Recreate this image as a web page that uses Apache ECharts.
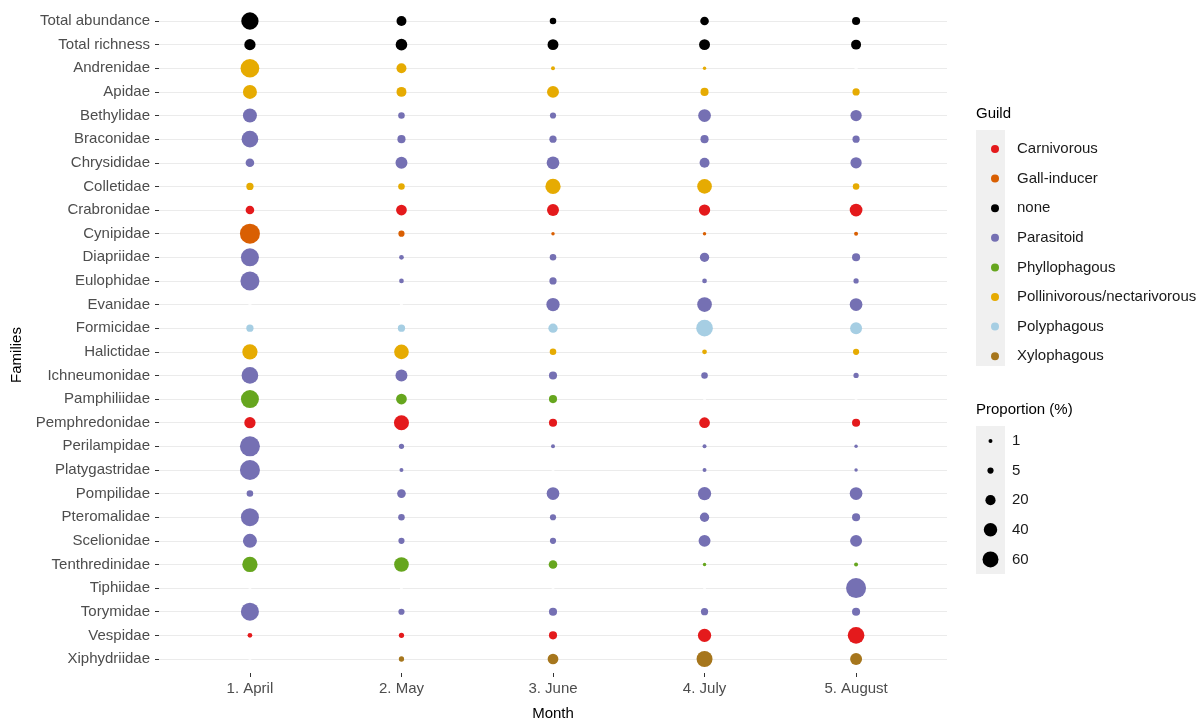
<!DOCTYPE html>
<html>
<head>
<meta charset="utf-8">
<script src="https://cdn.jsdelivr.net/npm/echarts@6/dist/echarts.min.js"></script>
<style>
html,body{margin:0;padding:0;background:#fff;}
#chart{width:1204px;height:719px;}
</style>
</head>
<body>
<div id="chart"></div>
<script>
// ---------- data ----------
const months = ['1. April', '2. May', '3. June', '4. July', '5. August'];
const families = ['Total abundance', 'Total richness', 'Andrenidae', 'Apidae', 'Bethylidae', 'Braconidae',
  'Chrysididae', 'Colletidae', 'Crabronidae', 'Cynipidae', 'Diapriidae', 'Eulophidae', 'Evanidae',
  'Formicidae', 'Halictidae', 'Ichneumonidae', 'Pamphiliidae', 'Pemphredonidae', 'Perilampidae',
  'Platygastridae', 'Pompilidae', 'Pteromalidae', 'Scelionidae', 'Tenthredinidae', 'Tiphiidae',
  'Torymidae', 'Vespidae', 'Xiphydriidae'];
const familyGuild = ['none', 'none', 'Pollinivorous/nectarivorous', 'Pollinivorous/nectarivorous', 'Parasitoid', 'Parasitoid',
  'Parasitoid', 'Pollinivorous/nectarivorous', 'Carnivorous', 'Gall-inducer', 'Parasitoid', 'Parasitoid', 'Parasitoid',
  'Polyphagous', 'Pollinivorous/nectarivorous', 'Parasitoid', 'Phyllophagous', 'Carnivorous', 'Parasitoid',
  'Parasitoid', 'Parasitoid', 'Parasitoid', 'Parasitoid', 'Phyllophagous', 'Parasitoid',
  'Parasitoid', 'Carnivorous', 'Xylophagous'];
const guilds = ['Carnivorous', 'Gall-inducer', 'none', 'Parasitoid', 'Phyllophagous',
  'Pollinivorous/nectarivorous', 'Polyphagous', 'Xylophagous'];
const guildColors = ['#E41A1C', '#D95F02', '#000000', '#7570B3', '#66A61E', '#E6AB02', '#A6CEE3', '#A6761D'];

const april  = [72, 26, 86, 44, 44, 66, 13, 8, 13, 100, 79, 89, 0, 8, 54, 66, 79, 26, 100, 100, 6, 79, 44, 54, 0, 79, 2, 0];
const may    = [19, 28, 19, 19, 6, 11, 30, 6, 23, 5, 2, 2, 0, 8, 49, 30, 23, 52, 3, 1, 13, 6, 5, 49, 0, 5, 3, 3];
const june   = [6, 24, 1, 30, 5, 8, 35, 54, 30, 0.5, 6, 8, 39, 16, 6, 11, 11, 11, 1, 0, 35, 5, 5, 13, 0, 11, 11, 23];
const july   = [13, 24, 0.5, 11, 35, 11, 19, 49, 26, 0.5, 16, 2, 49, 66, 2, 6, 0, 23, 1, 1, 39, 16, 30, 0.5, 0, 8, 39, 60];
const august = [11, 19, 0, 8, 26, 8, 26, 6, 35, 1, 11, 3, 35, 30, 5, 3, 0, 11, 0.5, 0.5, 35, 11, 30, 1, 100, 11, 66, 30];
const sizeBreaks = [1, 5, 20, 40, 60];

// ---------- build ----------
const monthValues = [april, may, june, july, august];
const FONT = '"Liberation Sans", Arial, Helvetica, sans-serif';
function sizeOf(v) { return v > 0 ? 2.2 + 1.78 * Math.sqrt(v) : 3; }

const series = guilds.map((g, gi) => {
  const data = [];
  monthValues.forEach((vals, m) => {
    vals.forEach((v, f) => {
      if (familyGuild[f] === g && v > 0) data.push([m, families[f], v]);
    });
  });
  return {
    name: g, type: 'scatter', data: data,
    symbolSize: d => sizeOf(d[2]),
    itemStyle: { color: guildColors[gi], opacity: 1 },
    emphasis: { disabled: true }, z: 3
  };
});
const zeros = [];
monthValues.forEach((vals, m) => vals.forEach((v, f) => { if (v === 0) zeros.push([m, families[f], v]); }));
series.push({
  name: 'zero', type: 'scatter', data: zeros, symbolSize: d => sizeOf(d[2]),
  itemStyle: { color: '#ffffff' }, silent: true, z: 2
});

// legend graphics
const graphics = [];
graphics.push({ type: 'text', left: 976, top: 106, style: { text: 'Guild', font: '15px ' + FONT, fill: '#000' } });
graphics.push({ type: 'rect', shape: { x: 976, y: 130, width: 29, height: 236 }, style: { fill: '#F0F0F0' }, z: -1 });
graphics.push({ type: 'text', left: 976, top: 402, style: { text: 'Proportion (%)', font: '15px ' + FONT, fill: '#000' } });
graphics.push({ type: 'rect', shape: { x: 976, y: 426, width: 29, height: 148 }, style: { fill: '#F0F0F0' }, z: -1 });
sizeBreaks.forEach((b, i) => {
  const cy = 441 + i * 29.6;
  graphics.push({ type: 'circle', shape: { cx: 990.5, cy: cy, r: sizeOf(b) / 2 }, style: { fill: '#000' } });
  graphics.push({ type: 'text', x: 1012, y: cy, style: { text: String(b), font: '15px ' + FONT, fill: '#1a1a1a', textVerticalAlign: 'middle' } });
});

const chart = echarts.init(document.getElementById('chart'), null, { renderer: 'canvas' });
chart.setOption({
  backgroundColor: '#ffffff',
  animation: false,
  textStyle: { fontFamily: FONT },
  grid: { left: 159, right: 257, top: 21, bottom: 60, containLabel: false, outerBoundsMode: 'none' },
  xAxis: {
    type: 'value', min: -0.6, max: 4.6, offset: 14,
    axisLine: { show: false, onZero: false },
    splitLine: { show: false },
    axisTick: { show: true, customValues: [0, 1, 2, 3, 4], length: 4, lineStyle: { color: '#333', width: 1 } },
    axisLabel: { customValues: [0, 1, 2, 3, 4], formatter: v => months[Math.round(v)], fontSize: 15, color: '#4d4d4d', margin: 8, fontFamily: FONT },
    name: 'Month', nameLocation: 'middle', nameGap: 33,
    nameTextStyle: { fontSize: 15, color: '#000', fontFamily: FONT }
  },
  yAxis: {
    type: 'category', data: families, inverse: true, boundaryGap: false,
    axisLine: { show: false, onZero: false },
    axisTick: { show: true, interval: 0, length: 4, lineStyle: { color: '#333', width: 1 } },
    axisLabel: { interval: 0, fontSize: 15, color: '#4d4d4d', margin: 9, fontFamily: FONT, padding: [10, 0, 0, 0] },
    splitLine: { show: true, interval: 0, lineStyle: { color: '#EBEBEB', width: 1 } },
    name: 'Families', nameLocation: 'middle', nameGap: 133, nameRotate: 90,
    nameTextStyle: { fontSize: 15, color: '#000', fontFamily: FONT, padding: [0, 30, 0, 0] }
  },
  legend: {
    orient: 'vertical', left: 986, top: 135, itemWidth: 8, itemHeight: 8, itemGap: 11.6,
    icon: 'circle', data: guilds, selectedMode: false,
    textStyle: { fontSize: 15, color: '#1a1a1a', padding: [0, 0, 0, 13], lineHeight: 18, fontFamily: FONT }
  },
  graphic: graphics,
  series: series
});
</script>
</body>
</html>
